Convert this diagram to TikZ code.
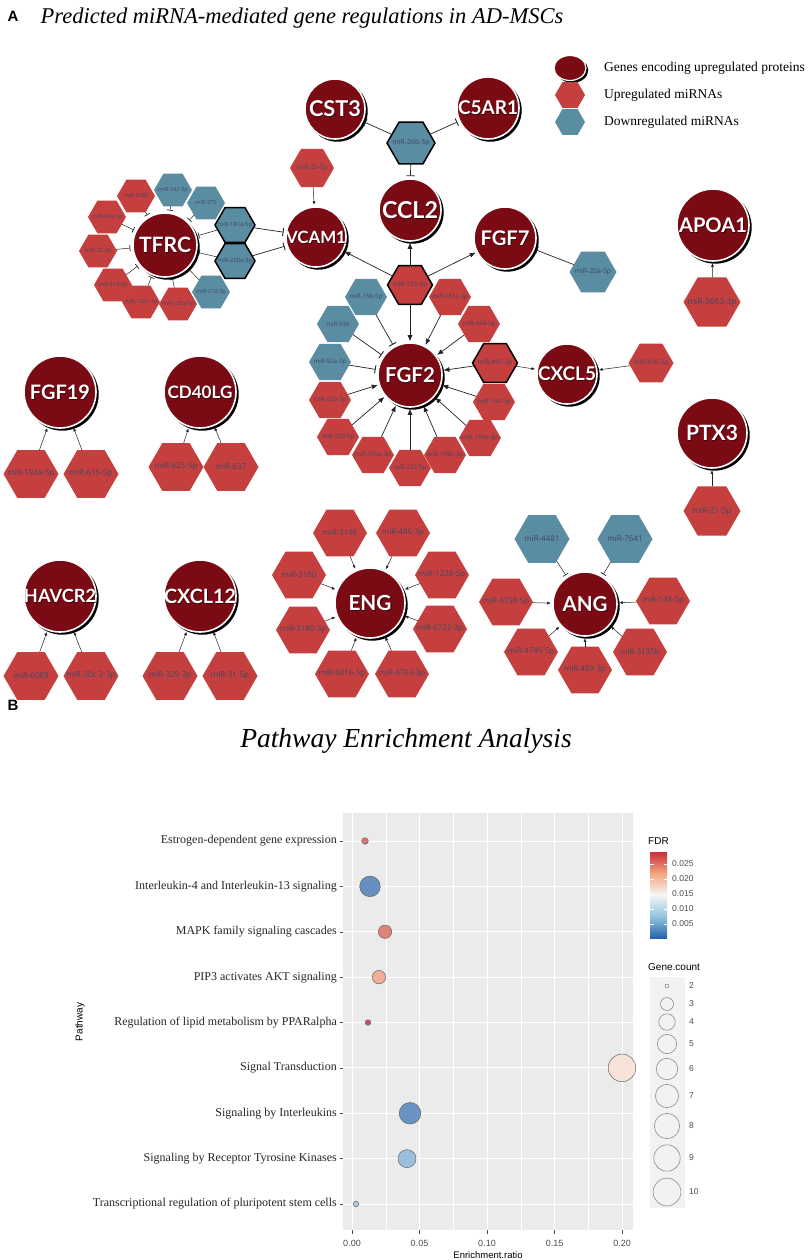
\documentclass[tikz,border=0pt]{standalone}
\usepackage{graphicx}
\usepackage{fontspec}
\setmainfont{Liberation Serif}
\setsansfont{Liberation Sans}
\newfontfamily\genefont{Lato}
\newfontfamily\hexfont{Open Sans}
\usetikzlibrary{shapes.geometric,arrows.meta}
\definecolor{genered}{HTML}{7A0A14}
\definecolor{upred}{HTML}{C63F3F}
\definecolor{downblue}{HTML}{5B8DA2}
\definecolor{hextxt}{HTML}{3D4763}
\definecolor{panel}{HTML}{EBEBEB}
\definecolor{edgec}{HTML}{222222}
\definecolor{axtxt}{HTML}{4D4D4D}
\definecolor{p1}{HTML}{D9605A}
\definecolor{p2}{HTML}{4E7FB8}
\definecolor{p3}{HTML}{DE7067}
\definecolor{p4}{HTML}{F3A38A}
\definecolor{p5}{HTML}{C9344A}
\definecolor{p6}{HTML}{FBE2D5}
\definecolor{p7}{HTML}{5284BC}
\definecolor{p8}{HTML}{8DB8D9}
\definecolor{p9}{HTML}{9CC7E0}
\definecolor{f1}{HTML}{C8303C}
\definecolor{f2}{HTML}{F4A582}
\definecolor{f3}{HTML}{F5F5F5}
\definecolor{f4}{HTML}{92C5DE}
\definecolor{f5}{HTML}{2563A8}
\tikzset{
  genec/.style={circle, fill=genered, draw=white, line width=1.6pt, inner sep=0pt},
  genetxt/.style={text=white, inner sep=0pt},
  hexa/.style={regular polygon, regular polygon sides=6, inner sep=0pt, outer sep=0pt},
  up/.style={fill=upred},
  down/.style={fill=downblue},
  upT/.style={fill=upred, draw=black, line width=1.5pt},
  downT/.style={fill=downblue, draw=black, line width=1.5pt},
  hext/.style={text=hextxt, inner sep=0pt},
  act/.style={draw=edgec, line width=0.7pt, -{Latex[length=6pt,width=5pt]}, shorten >=1pt},
  acts/.style={draw=edgec, line width=0.5pt, -{Latex[length=3.5pt,width=3pt]}, shorten >=1.5pt},
  inh/.style={draw=edgec, line width=0.7pt, -{Bar[width=8pt,line width=0.9pt]}, shorten >=2pt},
  inhs/.style={draw=edgec, line width=0.5pt, -{Bar[width=6pt,line width=0.7pt]}, shorten >=2pt},
  ylab/.style={anchor=east, font=\fontsize{12}{12}\selectfont, text=black!85, inner sep=0pt},
  xlab/.style={font=\sffamily\fontsize{9}{9}\selectfont, text=axtxt, inner sep=0pt},
  leglab/.style={anchor=west, font=\sffamily\fontsize{8.5}{8.5}\selectfont, text=axtxt, inner sep=0pt},
}
% name, x, y, radius, label, label width
\newcommand\gene[6]{%
  \fill[black] (#2+2.3,#3+2.3) circle[radius={#4pt+0.4pt}];
  \node[genec,minimum size={2*#4pt}] (#1) at (#2,#3) {};
  \node[genetxt,text=black,opacity=0.5] (#1s) at (#2+0.9,#3+0.9) {\resizebox{#6pt}{!}{\genefont\bfseries\fontsize{20}{20}\selectfont #5}};
  \node[genetxt] (#1t) at (#2,#3) {\resizebox{#6pt}{!}{\genefont\bfseries\fontsize{20}{20}\selectfont #5}};
}
\newcommand\hx[6]{%
  \node[hexa,#5,minimum size=#4pt] (#1) at (#2,#3) {};
  \pgfmathsetmacro\hfs{#4*0.145}%
  \node[hext,font={\hexfont\fontsize{\hfs}{\hfs}\selectfont}] (#1t) at (#2,#3) {#6};
}
\begin{document}
\begin{tikzpicture}[x=1pt,y=-1pt]
\useasboundingbox (0,0) rectangle (809,1260);
\fill[white] (0,0) rectangle (809,1260);

% ---------- Panel A ----------
\node[anchor=west, font=\sffamily\bfseries\fontsize{15}{15}\selectfont] (labA) at (4,16) {A};
\node[font=\itshape\fontsize{22.5}{24}\selectfont] (titA) at (302,18) {Predicted miRNA-mediated gene regulations in AD-MSCs};

% legend
\fill[black] (572.3,70.3) ellipse[x radius=16pt, y radius=12.5pt];
\node[ellipse, fill=genered, draw=white, line width=1.2pt, minimum width=32pt, minimum height=25pt, inner sep=0pt] (lgG) at (570,68) {};
\node[hexa, up, minimum size=30pt] (lgU) at (570,95) {};
\node[hexa, down, minimum size=30pt] (lgD) at (570,122) {};
\node[anchor=west, font=\fontsize{13.5}{14}\selectfont, inner sep=0pt] (lgGt) at (604,68) {Genes encoding upregulated proteins};
\node[anchor=west, font=\fontsize{13.5}{14}\selectfont, inner sep=0pt] (lgUt) at (604,95) {Upregulated miRNAs};
\node[anchor=west, font=\fontsize{13.5}{14}\selectfont, inner sep=0pt] (lgDt) at (604,122) {Downregulated miRNAs};

% genes
\gene{CST3}{335}{109}{30}{CST3}{52}
\gene{C5AR1}{488}{108}{31}{C5AR1}{60}
\gene{CCL2}{410}{210}{31}{CCL2}{56}
\gene{VCAM1}{316}{237}{30}{VCAM1}{60}
\gene{TFRC}{165}{245}{32}{TFRC}{52}
\gene{FGF7}{505}{238}{31}{FGF7}{49}
\gene{APOA1}{713}{225}{36}{APOA1}{68}
\gene{FGF2}{410}{375}{32}{FGF2}{50}
\gene{CXCL5}{567}{374}{30}{CXCL5}{58}
\gene{PTX3}{712}{433}{35}{PTX3}{52}
\gene{FGF19}{60}{392}{36}{FGF19}{60}
\gene{CD40LG}{200}{392}{36}{CD40LG}{65}
\gene{HAVCR2}{60}{596}{36}{HAVCR2}{72}
\gene{CXCL12}{200}{596}{36}{CXCL12}{72}
\gene{ENG}{370}{603}{35}{ENG}{43}
\gene{ANG}{585}{604}{32}{ANG}{45}

% TFRC cluster
\hx{h3423p}{173}{190}{38}{down}{miR-342-3p}
\hx{h375}{206}{203}{38}{down}{miR-375}
\hx{h3185}{136}{196}{38}{up}{miR-3185}
\hx{h34a}{107}{217}{38}{up}{miR-34a-5p}
\hx{h223p}{98}{251}{38}{up}{miR-22-3p}
\hx{h218}{113}{285}{38}{up}{miR-218-5p}
\hx{h1301}{141}{302}{38}{up}{miR-1301-3p}
\hx{h125a}{178}{304}{38}{up}{miR-125a-5p}
\hx{h210}{211}{292}{38}{down}{miR-210-3p}
\hx{h181a}{235}{225}{40}{downT}{miR-181a-5p}
\hx{h200a}{235}{261}{40}{downT}{miR-200a-3p}

% top / FGF2 cluster
\hx{h225p}{312}{168}{44}{up}{miR-22-5p}
\hx{h26b}{411}{143}{48}{downT}{miR-26b-5p}
\hx{h155}{410}{285}{45}{upT}{miR-155-5p}
\hx{h15b}{366}{297}{42}{down}{miR-15b-5p}
\hx{h181c}{450}{297}{42}{up}{miR-181c-3p}
\hx{h936}{338}{324}{42}{down}{miR-936}
\hx{h424}{479}{324}{42}{up}{miR-424-5p}
\hx{h92a}{330}{362}{42}{down}{miR-92a-3p}
\hx{h495}{495}{363}{45}{upT}{miR-495-3p}
\hx{h92b}{330}{400}{42}{up}{miR-92b-3p}
\hx{h140}{494}{402}{42}{up}{miR-140-5p}
\hx{h503}{338}{437}{42}{up}{miR-503-5p}
\hx{h199a}{480}{438}{42}{up}{miR-199a-3p}
\hx{h376a}{373}{455}{42}{up}{miR-376a-3p}
\hx{h222}{410}{468}{42}{up}{miR-222-5p}
\hx{h199b}{445}{455}{42}{up}{miR-199b-3p}
\hx{h20a}{593}{272}{47}{down}{miR-20a-5p}
\hx{h410}{651}{363}{45}{up}{miR-410-3p}
\hx{h3663}{712}{302}{57}{up}{miR-3663-3p}
\hx{h21}{712}{511}{57}{up}{miR-21-5p}

% small gene groups
\hx{h193a}{31}{474}{55}{up}{miR-193a-5p}
\hx{h615}{91}{474}{55}{up}{miR-615-5p}
\hx{h625}{176}{467}{55}{up}{miR-625-5p}
\hx{h637}{231}{467}{55}{up}{miR-637}
\hx{h6089}{31}{676}{55}{up}{miR-6089}
\hx{h30c}{91}{676}{55}{up}{miR-30c-2-3p}
\hx{h329}{170}{676}{55}{up}{miR-329-3p}
\hx{h31}{230}{676}{55}{up}{miR-31-5p}

% ENG cluster
\hx{h3196}{340}{533}{54}{up}{miR-3196}
\hx{h486}{403}{533}{54}{up}{miR-486-3p}
\hx{h3180}{299}{575}{54}{up}{miR-3180}
\hx{h1228}{442}{575}{54}{up}{miR-1228-5p}
\hx{h31803p}{303}{630}{54}{up}{miR-3180-3p}
\hx{h6722}{440}{629}{54}{up}{miR-6722-3p}
\hx{h6816}{342}{674}{54}{up}{miR-6816-5p}
\hx{h4763}{402}{674}{54}{up}{miR-4763-3p}

% ANG cluster
\hx{h4481}{542}{539}{55}{down}{miR-4481}
\hx{h7641}{625}{539}{55}{down}{miR-7641}
\hx{h4758}{506}{602}{54}{up}{miR-4758-5p}
\hx{h143}{663}{601}{54}{up}{miR-143-5p}
\hx{h4745}{531}{652}{54}{up}{miR-4745-5p}
\hx{h409}{585}{670}{54}{up}{miR-409-3p}
\hx{h3135b}{640}{652}{54}{up}{miR-3135b}

% edges
\foreach \h in {h3423p,h375,h3185,h34a,h223p,h218,h1301,h125a,h210,h181a,h200a}
  \draw[inhs] (\h) -- (TFRC);
\draw[inh] (h181a) -- (VCAM1);
\draw[inh] (h200a) -- (VCAM1);
\draw[acts] (h225p) -- (VCAM1);
\draw[act] (h155) -- (VCAM1);
\draw[inh] (h26b) -- (CST3);
\draw[inh] (h26b) -- (C5AR1);
\draw[inh] (h26b) -- (CCL2);
\draw[act] (h155) -- (CCL2);
\draw[act] (h155) -- (FGF7);
\draw[act] (h155) -- (FGF2);
\draw[inh] (h20a) -- (FGF7);
\foreach \h in {h15b,h936,h92a}
  \draw[inh] (\h) -- (FGF2);
\foreach \h in {h181c,h424,h495,h92b,h140,h503,h199a,h376a,h222,h199b}
  \draw[act] (\h) -- (FGF2);
\draw[acts] (h495) -- (CXCL5);
\draw[acts] (h410) -- (CXCL5);
\draw[acts] (h3663) -- (APOA1);
\draw[acts] (h21) -- (PTX3);
\draw[acts] (h193a) -- (FGF19);
\draw[acts] (h615) -- (FGF19);
\draw[acts] (h625) -- (CD40LG);
\draw[acts] (h637) -- (CD40LG);
\draw[acts] (h6089) -- (HAVCR2);
\draw[acts] (h30c) -- (HAVCR2);
\draw[acts] (h329) -- (CXCL12);
\draw[acts] (h31) -- (CXCL12);
\foreach \h in {h3196,h486,h3180,h1228,h31803p,h6722,h6816,h4763}
  \draw[acts] (\h) -- (ENG);
\draw[inhs] (h4481) -- (ANG);
\draw[inhs] (h7641) -- (ANG);
\foreach \h in {h4758,h143,h4745,h409,h3135b}
  \draw[acts] (\h) -- (ANG);

% ---------- Panel B ----------
\node[anchor=west, font=\sffamily\bfseries\fontsize{15}{15}\selectfont] (labB) at (4,705) {B};
\node[font=\itshape\fontsize{27.5}{28}\selectfont] (titB) at (406,741) {Pathway Enrichment Analysis};

\fill[panel] (343,813) rectangle (633,1230);
\foreach \x in {385.75,453.25,520.75,588.25}
  \draw[white, line width=0.4pt] (\x,813) -- (\x,1230);
\foreach \x in {352,419.5,487,554.5,622}
  \draw[white, line width=0.9pt] (\x,813) -- (\x,1230);
\foreach \y in {841,886.375,931.75,977.125,1022.5,1067.875,1113.25,1158.625,1204}
  {\draw[white, line width=0.9pt] (343,\y) -- (633,\y);
   \draw[black!70, line width=0.5pt] (339.5,\y) -- (343,\y);}
\foreach \x/\t [count=\i] in {352/0.00,419.5/0.05,487/0.10,554.5/0.15,622/0.20}
  {\draw[black!70, line width=0.5pt] (\x,1230) -- (\x,1233.5);
   \node[xlab] (xt\i) at (\x,1243) {\t};}
\node[font=\sffamily\fontsize{9.5}{9.5}\selectfont, inner sep=0pt] (xtitle) at (488,1255) {Enrichment.ratio};
\node[font=\sffamily\fontsize{10}{10}\selectfont, rotate=90, inner sep=0pt] (ytitle) at (80,1022) {Pathway};

\node[ylab] (yl1) at (337,841) {Estrogen-dependent gene expression};
\node[ylab] (yl2) at (337,886.375) {Interleukin-4 and Interleukin-13 signaling};
\node[ylab] (yl3) at (337,931.75) {MAPK family signaling cascades};
\node[ylab] (yl4) at (337,977.125) {PIP3 activates AKT signaling};
\node[ylab] (yl5) at (337,1022.5) {Regulation of lipid metabolism by PPARalpha};
\node[ylab] (yl6) at (337,1067.875) {Signal Transduction};
\node[ylab] (yl7) at (337,1113.25) {Signaling by Interleukins};
\node[ylab] (yl8) at (337,1158.625) {Signaling by Receptor Tyrosine Kinases};
\node[ylab] (yl9) at (337,1204) {Transcriptional regulation of pluripotent stem cells};

\foreach \px/\py/\pr/\pc in {365/841/3.3/p1, 370/886.375/10.3/p2, 385/931.75/6.7/p3, 379/977.125/6.7/p4, 368/1022.5/2.8/p5, 622/1067.875/13.8/p6, 410/1113.25/10.8/p7, 407/1158.625/9/p8, 356/1204/2.8/p9}
  \filldraw[fill=\pc, fill opacity=0.85, draw=black!60, line width=0.5pt] (\px,\py) circle[radius=\pr pt];

% FDR legend
\node[anchor=west, font=\sffamily\fontsize{10}{10}\selectfont, inner sep=0pt] (fdrT) at (648,841) {FDR};
\shade[top color=f1, bottom color=f2] (650,852) rectangle (667,873.5);
\shade[top color=f2, bottom color=f3] (650,873.5) rectangle (667,895);
\shade[top color=f3, bottom color=f4] (650,895) rectangle (667,916.5);
\shade[top color=f4, bottom color=f5] (650,916.5) rectangle (667,938);
\foreach \y/\t [count=\i] in {864/0.025,879/0.020,894/0.015,909/0.010,924/0.005}
  {\draw[white, line width=0.5pt] (650,\y) -- (653.5,\y) (663.5,\y) -- (667,\y);
   \node[leglab] (fl\i) at (672,\y) {\t};}

% Gene.count legend
\node[anchor=west, font=\sffamily\fontsize{10}{10}\selectfont, inner sep=0pt] (gcT) at (648,967) {Gene.count};
\fill[black!5] (650,977) rectangle (685,1208);
\foreach \y/\r/\t [count=\i] in {986/2/2,1004/6.5/3,1022/8.2/4,1044/9.6/5,1069/10.7/6,1096/11.6/7,1126/12.6/8,1158/13.2/9,1192/13.9/10}
  {\draw[black!45, line width=0.6pt] (667,\y) circle[radius=\r pt];
   \node[leglab] (gl\i) at (689,\y) {\t};}
\end{tikzpicture}
\end{document}
